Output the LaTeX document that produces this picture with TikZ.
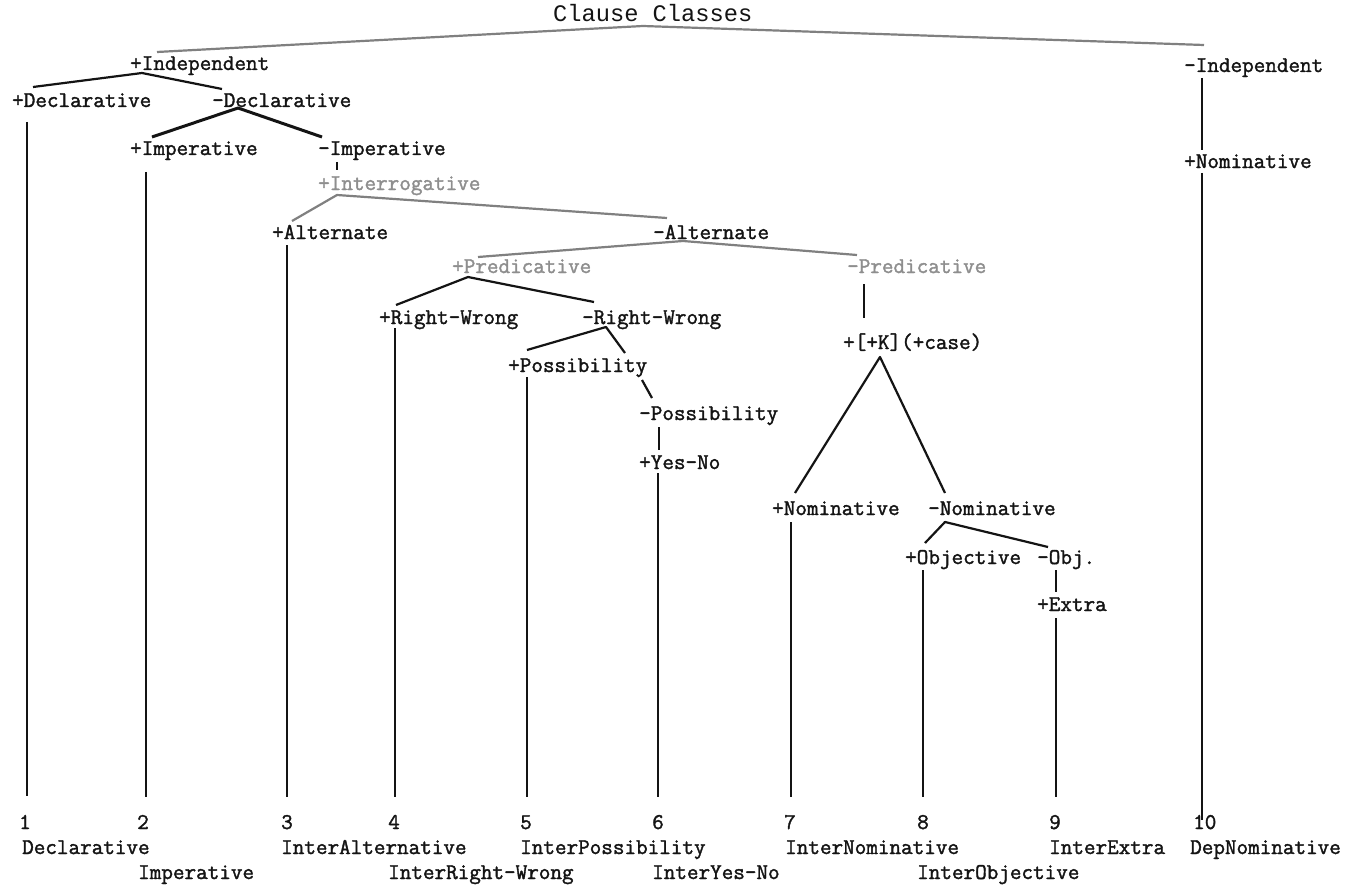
\documentclass[tikz,border=0pt]{standalone}
\usepackage{fontspec}
\newfontfamily\titlefont{Liberation Mono}
\newfontfamily\typew[FakeBold=1.6]{Latin Modern Mono}
\definecolor{ink}{HTML}{141414}
\definecolor{fade}{HTML}{8E8E8E}
\definecolor{gline}{HTML}{808080}
\begin{document}
\begin{tikzpicture}[x=1pt,y=-1pt,
  lbl/.style={anchor=base west, inner sep=0pt, text=ink, font=\fontsize{22.5}{24}\selectfont\typew\bfseries},
  glbl/.style={lbl, text=fade},
  ttl/.style={anchor=base west, inner sep=0pt, text=ink, font=\fontsize{23.7}{25}\selectfont\titlefont},
  blk/.style={draw=ink, line width=2.2pt, line join=round},
  heavy/.style={draw=ink, line width=3pt, line join=round},
  gry/.style={draw=gline, line width=2.2pt, line join=round},
  vl/.style={draw=ink, line width=1.7pt},
  tick/.style={draw=ink, line width=1.5pt}]
\useasboundingbox[fill=white] (0,0) rectangle (1353,888);

% ---- feature nodes ----
\node[ttl]  (title)  at (553,22)  {Clause Classes};
\node[lbl]  (pInd)   at (130,70)  {+Independent};
\node[lbl]  (mInd)   at (1184,72) {-Independent};
\node[lbl]  (pDecl)  at (12,107)  {+Declarative};
\node[lbl]  (mDecl)  at (212,107) {-Declarative};
\node[lbl]  (pImp)   at (130,155) {+Imperative};
\node[lbl]  (mImp)   at (318,155) {-Imperative};
\node[glbl] (pInter) at (318,190) {+Interrogative};
\node[lbl]  (pAlt)   at (272,239) {+Alternate};
\node[lbl]  (mAlt)   at (653,239) {-Alternate};
\node[glbl] (pPred)  at (452,273) {+Predicative};
\node[glbl] (mPred)  at (847,273) {-Predicative};
\node[lbl]  (pRW)    at (379,324) {+Right-Wrong};
\node[lbl]  (mRW)    at (582,324) {-Right-Wrong};
\node[lbl]  (pPoss)  at (508,372) {+Possibility};
\node[lbl]  (mPoss)  at (639,420) {-Possibility};
\node[lbl]  (pYN)    at (639,469) {+Yes-No};
\node[lbl]  (pK)     at (843,349) {+[+K](+case)};
\node[lbl]  (pNom)   at (772,515) {+Nominative};
\node[lbl]  (mNom)   at (928,515) {-Nominative};
\node[lbl]  (pObj)   at (905,564) {+Objective};
\node[lbl]  (mObj)   at (1037,564) {-Obj.};
\node[lbl]  (pExtra) at (1037,611) {+Extra};
\node[lbl]  (pNomR)  at (1184,168) {+Nominative};

% ---- numbers ----
\node[lbl] (n1)  at (19,829)   {1};
\node[lbl] (n2)  at (137,829)  {2};
\node[lbl] (n3)  at (281,829)  {3};
\node[lbl] (n4)  at (388,829)  {4};
\node[lbl] (n5)  at (520,829)  {5};
\node[lbl] (n6)  at (652,829)  {6};
\node[lbl] (n7)  at (784,829)  {7};
\node[lbl] (n8)  at (917,829)  {8};
\node[lbl] (n9)  at (1049,829) {9};
\node[lbl] (n10) at (1193,829) {10};

% ---- class names ----
\node[lbl] (l1)  at (22,854)   {Declarative};
\node[lbl] (l2)  at (138,879)  {Imperative};
\node[lbl] (l3)  at (281,854)  {InterAlternative};
\node[lbl] (l4)  at (388,879)  {InterRight-Wrong};
\node[lbl] (l5)  at (520,854)  {InterPossibility};
\node[lbl] (l6)  at (652,879)  {InterYes-No};
\node[lbl] (l7)  at (785,854)  {InterNominative};
\node[lbl] (l8)  at (917,879)  {InterObjective};
\node[lbl] (l9)  at (1049,854) {InterExtra};
\node[lbl] (l10) at (1190,854) {DepNominative};

% ---- connector end points ----
\coordinate (tA) at (157,52);  \coordinate (tB) at (643,26);  \coordinate (tC) at (1204,45);
\coordinate (iA) at (33,87);   \coordinate (iB) at (142,73);  \coordinate (iC) at (222,89);
\coordinate (dA) at (152,137); \coordinate (dB) at (238,108); \coordinate (dC) at (322,137);
\coordinate (mA) at (337,162); \coordinate (mB) at (337,170);
\coordinate (qA) at (292,221); \coordinate (qB) at (337,195); \coordinate (qC) at (667,218);
\coordinate (aA) at (478,257); \coordinate (aB) at (683,241); \coordinate (aC) at (857,255);
\coordinate (pA) at (396,305); \coordinate (pB) at (468,277); \coordinate (pC) at (594,302);
\coordinate (rA) at (527,350); \coordinate (rB) at (606,327); \coordinate (rC) at (625,353);
\coordinate (sA) at (642,380); \coordinate (sB) at (652,398);
\coordinate (yA) at (659,427); \coordinate (yB) at (659,450);
\coordinate (kA) at (864,284); \coordinate (kB) at (864,318);
\coordinate (cA) at (795,493); \coordinate (cB) at (880,357); \coordinate (cC) at (945,493);
\coordinate (oA) at (925,543); \coordinate (oB) at (945,522); \coordinate (oC) at (1048,547);
\coordinate (eA) at (1056,570); \coordinate (eB) at (1056,592);
\coordinate (jA) at (1202,78); \coordinate (jB) at (1202,150);
% vertical stems
\coordinate (v1a) at (27,122);   \coordinate (v1b) at (27,796);
\coordinate (v2a) at (146,172);  \coordinate (v2b) at (146,797);
\coordinate (v3a) at (287,245);  \coordinate (v3b) at (287,797);
\coordinate (v4a) at (395,328);  \coordinate (v4b) at (395,797);
\coordinate (v5a) at (527,377);  \coordinate (v5b) at (527,797);
\coordinate (v6a) at (658,473);  \coordinate (v6b) at (658,797);
\coordinate (v7a) at (791,522);  \coordinate (v7b) at (791,797);
\coordinate (v8a) at (923,570);  \coordinate (v8b) at (923,797);
\coordinate (v9a) at (1056,618); \coordinate (v9b) at (1056,797);
\coordinate (v10a) at (1202,173); \coordinate (v10b) at (1202,820);

% ---- connectors ----
\draw[gry]   (tA) -- (tB) -- (tC);
\draw[blk]   (iA) -- (iB) -- (iC);
\draw[heavy] (dA) -- (dB) -- (dC);
\draw[tick]  (mA) -- (mB);
\draw[gry]   (qA) -- (qB) -- (qC);
\draw[gry]   (aA) -- (aB) -- (aC);
\draw[blk]   (pA) -- (pB) -- (pC);
\draw[blk]   (rA) -- (rB) -- (rC);
\draw[blk]   (sA) -- (sB);
\draw[tick]  (yA) -- (yB);
\draw[tick]  (kA) -- (kB);
\draw[blk]   (cA) -- (cB) -- (cC);
\draw[blk]   (oA) -- (oB) -- (oC);
\draw[tick]  (eA) -- (eB);
\draw[vl]    (jA) -- (jB);
\foreach \i in {1,...,10} { \draw[vl] (v\i a) -- (v\i b); }
\end{tikzpicture}
\end{document}
